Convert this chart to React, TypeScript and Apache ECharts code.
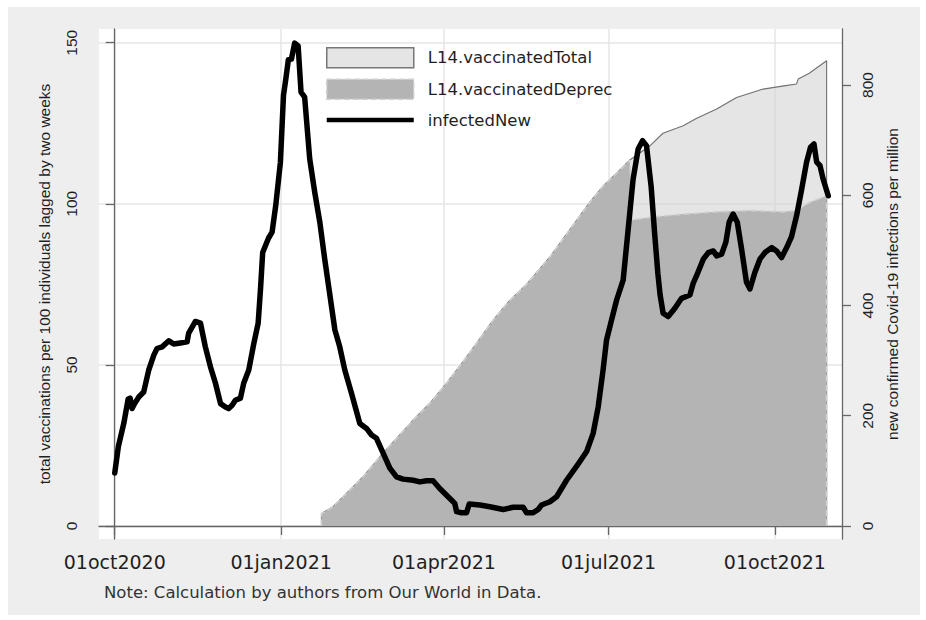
import React, { useEffect, useRef } from 'react';
import * as echarts from 'echarts';

// x positions are days since 01oct2020
const xTickDays = [0, 92, 182, 273, 365];
const xTickLabels = ['01oct2020', '01jan2021', '01apr2021', '01jul2021', '01oct2021'];
const leftTicks = [0, 50, 100, 150];
const rightTicks = [0, 200, 400, 600, 800];

const infectedDays = [
  0, 2, 5, 7.4, 8.5, 9.6, 11, 13.3, 16, 18.8, 21.6, 23.4, 26.2, 29.9, 32.6, 36.3, 40, 40.9, 44.6, 47.4,
  50.1, 52.9, 55.7, 58.5, 61.2, 63, 64.9, 66.7, 69.5, 71.3, 74.1, 76.9, 79.3, 80.6, 81.8, 85, 87, 89, 91.6, 93.3,
  94.6, 96, 97.7, 99.5, 101.4, 103, 105, 107.8, 110.6, 113.4, 116.1, 118.9, 121.7, 124.4, 127.2, 130.9, 135.5, 139.2, 142, 144.7,
  148.4, 152.1, 155.8, 159.4, 165, 168.7, 172.4, 176, 179.7, 185.3, 188, 189, 191.7, 194.5, 196, 201.9, 207.4, 214.8, 220.3, 225.8,
  227.7, 231.3, 234.1, 236, 240.6, 244.3, 249.8, 255.3, 260.9, 264.5, 267.3, 270, 271.9, 274.7, 277.5, 281.1, 283.9, 286.6, 289.4, 291.8,
  294, 296.6, 298.5, 300.3, 301.5, 303.2, 306, 309.7, 313.4, 318, 319.8, 321.7, 325.4, 328.2, 330.9, 332.8, 335.5, 337.9, 339.7, 341.9,
  344.2, 346.6, 349.3, 351.2, 353.9, 356.7, 359.5, 363.2, 365.9, 368.7, 371.5, 374.2, 377, 379.8, 382.5, 384.7, 386.6, 388.1, 389.9, 391.7,
  394.5,
];
const infectedNew = [
  96, 144, 186, 230, 232, 213, 222, 234, 243, 283, 310, 322, 325, 336, 330, 332, 334, 350, 371, 368,
  325, 289, 259, 222, 216, 213, 219, 228, 232, 259, 283, 331, 368, 430, 496, 522, 533, 581, 660, 781,
  811, 846, 847, 876, 871, 787, 778, 666, 605, 551, 484, 420, 356, 325, 283, 241, 186, 177, 165, 159,
  132, 105, 89, 85, 83, 80, 82, 82, 68, 50, 41, 26, 24, 24, 40, 38, 35, 30, 34, 34,
  24, 24, 30, 38, 44, 53, 83, 108, 135, 168, 216, 283, 337, 374, 410, 446, 539, 629, 684, 699,
  690, 615, 531, 458, 420, 386, 380, 395, 413, 419, 440, 454, 484, 496, 499, 490, 493, 515, 551, 566,
  551, 502, 442, 430, 460, 484, 496, 505, 499, 487, 505, 525, 563, 611, 660, 687, 693, 660, 654, 629,
  599,
];

const totalDays = [
  114.3, 114.3, 120.7, 128.1, 137.3, 146.6, 155.8, 165, 174.2, 183.4, 192.6, 200, 209.2, 218.4, 227.7, 240.6, 251.6,
  262.7, 270, 279.3, 284.8, 295.9, 303.1, 314.3, 321.5, 332.8, 343.8, 358.5, 370, 377, 377.9, 384, 393.6, 393.6,
];
const vaccinatedTotal = [
  0, 3.9, 6.0, 10.1, 15.3, 21.5, 27.2, 32.9, 38.1, 44.3, 51.0, 56.7, 63.9, 70.0, 75.0, 83.5, 92.0,
  100.5, 105.5, 110.5, 113.6, 118.0, 121.9, 124.2, 126.5, 129.4, 133.0, 135.6, 136.6, 137.2, 138.7, 140.5, 144.4, 0,
];

const deprecDays = [
  114.3, 114.3, 120.7, 128.1, 137.3, 146.6, 155.8, 165, 174.2, 183.4, 192.6, 200, 209.2, 218.4, 227.7, 240.6, 251.6,
  262.7, 270, 279.3, 284.8, 286, 295.9, 303.1, 314.3, 332.8, 351.2, 369.6, 377, 384.4, 393.6, 393.6,
];
const vaccinatedDeprec = [
  0, 3.9, 6.0, 10.1, 15.3, 21.5, 27.2, 32.9, 38.1, 44.3, 51.0, 56.7, 63.9, 70.0, 75.0, 83.5, 92.0,
  100.5, 105.5, 110.5, 113.6, 95.0, 95.8, 96.2, 96.8, 97.5, 97.9, 97.5, 97.9, 100.5, 102.5, 0,
];

const seriesNames = ['L14.vaccinatedTotal', 'L14.vaccinatedDeprec', 'infectedNew'];
const noteText = 'Note: Calculation by authors from Our World in Data.';
const leftTitle = 'total vaccinations per 100 individuals lagged by two weeks';
const rightTitle = 'new confirmed Covid-19 infections per million';

const H_FONT = 'DejaVu Sans';
const V_FONT = 'Liberation Sans';
const TEXT = '#1f1f1f';
const AXIS = '#666666';
const GRID = '#e6e6e6';
const LINE_ICON = 'path://M0,0h87v0.01h-87zM0,7.8h87v4.4h-87zM0,19.99h87v0.01h-87z';

export default function App() {
  const ref = useRef<HTMLDivElement>(null);
  useEffect(() => {
    const chart = echarts.init(ref.current as HTMLDivElement, null, { renderer: 'svg' });
    const zip = (xs: number[], ys: number[]) => xs.map((x, i) => [x, ys[i]]);
    const option = {
      animation: false,
      backgroundColor: '#ffffff',
      graphic: [
        {
          type: 'rect',
          z: -10,
          silent: true,
          shape: { x: 8, y: 7, width: 912, height: 608 },
          style: { fill: '#eeeeee' },
        },
      ],
      title: {
        text: noteText,
        left: 104,
        top: 584,
        padding: 0,
        textStyle: { fontFamily: H_FONT, fontSize: 16.5, fontWeight: 'normal', color: '#333333' },
      },
      legend: {
        orient: 'vertical',
        left: 326,
        top: 47,
        padding: 0,
        itemWidth: 87,
        itemHeight: 20,
        itemGap: 10,
        selectedMode: false,
        textStyle: { fontFamily: H_FONT, fontSize: 16.5, color: TEXT, padding: [0, 0, 0, 9] },
        data: [
          {
            name: seriesNames[0],
            icon: 'rect',
            itemStyle: { color: '#e5e5e5', borderColor: '#777777', borderWidth: 1.5 },
          },
          {
            name: seriesNames[1],
            icon: 'rect',
            itemStyle: { color: '#b4b4b4', borderColor: '#d0d0d0', borderWidth: 1.5, borderType: 'dashed' },
          },
          {
            name: seriesNames[2],
            icon: LINE_ICON,
            itemStyle: { color: '#000000', borderWidth: 0 },
          },
        ],
      },
      grid: {
        left: 99,
        right: 84,
        top: 29,
        bottom: 81,
        show: true,
        backgroundColor: '#ffffff',
        borderWidth: 0,
        containLabel: false,
      },
      xAxis: {
        type: 'value',
        min: -8.7,
        max: 402.1,
        axisLine: { show: true, lineStyle: { color: AXIS, width: 1.3 } },
        axisTick: { show: true, customValues: xTickDays, length: 9, lineStyle: { color: AXIS, width: 1.3 } },
        axisLabel: {
          customValues: xTickDays,
          margin: 13,
          fontFamily: H_FONT,
          fontSize: 19,
          color: TEXT,
          formatter: (v: number) => {
            const i = xTickDays.indexOf(v);
            return i >= 0 ? xTickLabels[i] : '';
          },
        },
        splitLine: { show: true, lineStyle: { color: GRID, width: 1.5 } },
      },
      yAxis: [
        {
          type: 'value',
          position: 'left',
          min: -4.03,
          max: 154.25,
          name: leftTitle,
          nameLocation: 'middle',
          nameRotate: 90,
          nameGap: 47,
          nameTextStyle: { fontFamily: V_FONT, fontSize: 15.5, color: TEXT },
          axisLine: { show: true, lineStyle: { color: AXIS, width: 1.3 } },
          axisTick: { show: true, customValues: leftTicks, length: 9, lineStyle: { color: AXIS, width: 1.3 } },
          axisLabel: {
            customValues: leftTicks,
            rotate: 90,
            margin: 20,
            fontFamily: V_FONT,
            fontSize: 15.5,
            color: TEXT,
          },
          splitLine: { show: true, lineStyle: { color: GRID, width: 1.5 } },
        },
        {
          type: 'value',
          position: 'right',
          min: -23.6,
          max: 901.6,
          name: rightTitle,
          nameLocation: 'middle',
          nameRotate: 90,
          nameGap: 42,
          nameTextStyle: { fontFamily: V_FONT, fontSize: 15.5, color: TEXT },
          axisLine: { show: true, lineStyle: { color: AXIS, width: 1.3 } },
          axisTick: { show: true, customValues: rightTicks, length: 9, lineStyle: { color: AXIS, width: 1.3 } },
          axisLabel: {
            customValues: rightTicks,
            rotate: 90,
            margin: 17,
            fontFamily: V_FONT,
            fontSize: 15.5,
            color: TEXT,
          },
          splitLine: { show: false },
        },
      ],
      series: [
        {
          name: seriesNames[0],
          type: 'line',
          yAxisIndex: 0,
          data: zip(totalDays, vaccinatedTotal),
          symbol: 'none',
          showSymbol: false,
          lineStyle: { color: '#707070', width: 1.1 },
          itemStyle: { color: '#e5e5e5' },
          areaStyle: { color: '#d4d4d4', opacity: 0.6 },
          z: 2,
        },
        {
          name: seriesNames[1],
          type: 'line',
          yAxisIndex: 0,
          data: zip(deprecDays, vaccinatedDeprec),
          symbol: 'none',
          showSymbol: false,
          lineStyle: { color: '#cfcfcf', width: 1.6, type: 'dashed' },
          itemStyle: { color: '#b4b4b4' },
          areaStyle: { color: '#b4b4b4', opacity: 1 },
          z: 3,
        },
        {
          name: seriesNames[2],
          type: 'line',
          yAxisIndex: 1,
          data: zip(infectedDays, infectedNew),
          symbol: 'none',
          showSymbol: false,
          lineStyle: { color: '#000000', width: 5.5, join: 'round', cap: 'round' },
          itemStyle: { color: '#000000' },
          z: 4,
        },
      ],
    };
    chart.setOption(option as any);
    return () => chart.dispose();
  }, []);
  return (
    <div
      ref={ref}
      style={{ position: 'fixed', left: 0, top: 0, width: 926, height: 620 }}
    />
  );
}
